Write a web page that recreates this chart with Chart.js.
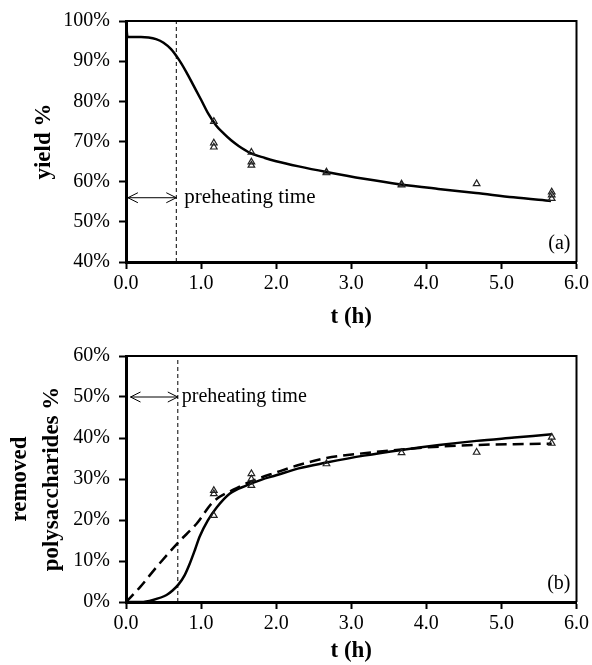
<!DOCTYPE html>
<html>
<head>
<meta charset="utf-8">
<script src="https://cdn.jsdelivr.net/npm/chart.js@4.4.0/dist/chart.umd.min.js"></script>
<style>
  body { margin: 0; background: #fff; }
  .box { position: absolute; left: 0; width: 592px; }
</style>
</head>
<body>
<div class="box" style="top:0;height:335px"><canvas id="yieldChart"></canvas></div>
<div class="box" style="top:335px;height:330px"><canvas id="polyChart"></canvas></div>
<script>
// (a) yield %, model curve and measurements
var yieldCurveT = [0, 0.02, 0.1, 0.2, 0.3, 0.4, 0.5, 0.6, 0.7, 0.8, 0.9, 1.0, 1.1, 1.2, 1.3, 1.4, 1.5, 1.66, 1.85, 2.0, 2.3, 2.67, 3.17, 3.66, 4.16, 4.66, 5.16, 5.66];
var yieldCurve  = [100, 96, 96, 96, 95.9, 95.5, 94.6, 93.0, 90.5, 87.4, 83.9, 80.4, 76.8, 74.0, 72.0, 70.3, 68.9, 67.1, 65.9, 65.1, 63.8, 62.4, 60.7, 59.3, 58.2, 57.2, 56.1, 55.2];
var yieldPointT = [1.17, 1.17, 1.17, 1.67, 1.67, 1.67, 2.67, 2.67, 3.67, 3.67, 4.67, 5.67, 5.67, 5.67];
var yieldPoints = [75.0, 69.6, 68.6, 67.3, 64.9, 64.1, 62.4, 62.2, 59.4, 59.2, 59.5, 57.4, 56.7, 55.8];

// (b) removed polysaccharides %, two model curves and measurements
var polySolidT  = [0, 0.2, 0.36, 0.54, 0.62, 0.7, 0.78, 0.85, 0.92, 0.98, 1.09, 1.21, 1.38, 1.6, 1.8, 2.0, 2.3, 2.67, 3.17, 3.67, 4.17, 4.67, 5.17, 5.67];
var polySolid   = [0, 0, 0.5, 1.7, 2.8, 4.3, 6.5, 9.4, 12.8, 15.9, 19.9, 23.1, 26.4, 28.4, 29.8, 30.9, 32.6, 34.0, 35.7, 37.1, 38.3, 39.3, 40.1, 40.9];
var polyDashT   = [0, 0.19, 0.41, 0.7, 0.94, 1.16, 1.43, 1.69, 2.0, 2.3, 2.67, 3.17, 3.67, 4.17, 4.67, 5.17, 5.67];
var polyDash    = [0, 3.7, 8.6, 14.6, 19.1, 24.4, 27.4, 29.6, 31.6, 33.4, 35.1, 36.3, 37.2, 37.9, 38.3, 38.5, 38.6];
var polyPointT  = [1.17, 1.17, 1.17, 1.67, 1.67, 1.67, 2.67, 3.67, 4.67, 5.67, 5.67];
var polyPoints  = [27.2, 26.4, 21.1, 31.3, 30.0, 28.4, 33.7, 36.4, 36.5, 40.2, 38.7];

var preheatA = 0.67;
var preheatB = 0.69;

var serif = "'Liberation Serif', 'Times New Roman', serif";

function xy(ts, vs) {
    return ts.map(function (t, i) { return { x: t, y: vs[i] }; });
}

function curve(data, dash) {
    return {
        data: data, showLine: true, pointRadius: 0, borderColor: '#000',
        borderWidth: 2.5, borderDash: dash || [], cubicInterpolationMode: 'monotone', fill: false,
        clip: 4
    };
}

function marks(data) {
    return {
        data: data, showLine: false, pointStyle: 'triangle', pointRadius: 3.8,
        borderColor: '#222', borderWidth: 1.2, backgroundColor: 'rgba(255,255,255,0)'
    };
}

function vline(t, lo, hi) {
    return {
        data: [{ x: t, y: lo }, { x: t, y: hi }], showLine: true, pointRadius: 0,
        borderColor: '#000', borderWidth: 1, borderDash: [4, 3], tension: 0
    };
}

// arrow, "preheating time", panel letter and the top/right frame
var notes = {
    id: 'notes',
    afterDraw: function (chart, args, o) {
        var ctx = chart.ctx, a = chart.chartArea;
        var xs = chart.scales.x, ys = chart.scales.y;
        var x0 = xs.getPixelForValue(o.from), x1 = xs.getPixelForValue(o.to), y = ys.getPixelForValue(o.at);
        ctx.save();
        ctx.strokeStyle = '#000';
        ctx.lineWidth = 1;
        ctx.beginPath();
        ctx.moveTo(x0, y); ctx.lineTo(x1, y);
        ctx.moveTo(x0 + 10, y - 5); ctx.lineTo(x0, y); ctx.lineTo(x0 + 10, y + 5);
        ctx.moveTo(x1 - 10, y - 5); ctx.lineTo(x1, y); ctx.lineTo(x1 - 10, y + 5);
        ctx.stroke();
        ctx.fillStyle = '#000';
        ctx.font = o.size + 'px ' + serif;
        ctx.textBaseline = 'middle';
        ctx.textAlign = 'left';
        ctx.fillText('preheating time', x1 + o.gap, y);
        ctx.font = '20px ' + serif;
        ctx.textAlign = 'right';
        ctx.fillText(o.panel, a.right - 6, a.bottom - 18);
        ctx.lineWidth = 2;
        ctx.beginPath();
        ctx.moveTo(a.left, a.top); ctx.lineTo(a.right, a.top); ctx.lineTo(a.right, a.bottom);
        ctx.stroke();
        ctx.restore();
    }
};

function scales(yMin, yMax, xHeight, xPadB, yTitle, yPadT) {
    return {
        x: {
            type: 'linear', min: 0, max: 6,
            ticks: { stepSize: 1, color: '#000', padding: 3, font: { family: serif, size: 20 },
                callback: function (v) { return v.toFixed(1); } },
            grid: { drawOnChartArea: false, tickLength: 7, tickWidth: 2, tickColor: '#000' },
            border: { color: '#000', width: 3 },
            title: { display: true, text: 't (h)', color: '#000',
                font: { family: serif, size: 23, weight: 'bold', lineHeight: 1.2 }, padding: { top: 0, bottom: xPadB } },
            afterFit: function (s) { s.height = xHeight; }
        },
        y: {
            min: yMin, max: yMax,
            ticks: { stepSize: 10, color: '#000', padding: 9, font: { family: serif, size: 20 },
                callback: function (v) { return v + '%'; } },
            grid: { drawOnChartArea: false, tickLength: 7, tickWidth: 2, tickColor: '#000' },
            border: { color: '#000', width: 3 },
            title: { display: true, text: yTitle, color: '#000',
                font: { family: serif, size: 23, weight: 'bold', lineHeight: 1.4 }, padding: { top: yPadT, bottom: 0 } },
            afterFit: function (s) { s.width = 126; }
        }
    };
}

var common = {
    responsive: true, maintainAspectRatio: false, animation: false,
    events: []
};

var chart_yield = new Chart(document.getElementById('yieldChart').getContext('2d'), {
    type: 'scatter',
    data: {
        datasets: [
            marks(xy(yieldPointT, yieldPoints)),
            curve(xy(yieldCurveT, yieldCurve)),
            vline(preheatA, 40, 100)
        ]
    },
    options: Object.assign({}, common, {
        layout: { padding: { top: 16, right: 15, left: 0, bottom: 0 } },
        scales: scales(40, 100, 73, 4, 'yield %', 28),
        plugins: {
            legend: { display: false }, tooltip: { enabled: false },
            notes: { from: 0.025, to: preheatA, at: 56, gap: 8, size: 21, panel: '(a)' }
        }
    }),
    plugins: [notes]
});

var chart_poly = new Chart(document.getElementById('polyChart').getContext('2d'), {
    type: 'scatter',
    data: {
        datasets: [
            marks(xy(polyPointT, polyPoints)),
            curve(xy(polySolidT, polySolid)),
            curve(xy(polyDashT, polyDash), [11, 6]),
            vline(preheatB, 0, 60)
        ]
    },
    options: Object.assign({}, common, {
        layout: { padding: { top: 20, right: 15, left: 0, bottom: 0 } },
        scales: scales(0, 60, 63, 0, ['removed', 'polysaccharides %'], 4),
        plugins: {
            legend: { display: false }, tooltip: { enabled: false },
            notes: { from: 0.06, to: preheatB, at: 50, gap: 4, size: 20, panel: '(b)' }
        }
    }),
    plugins: [notes]
});
</script>
</body>
</html>
